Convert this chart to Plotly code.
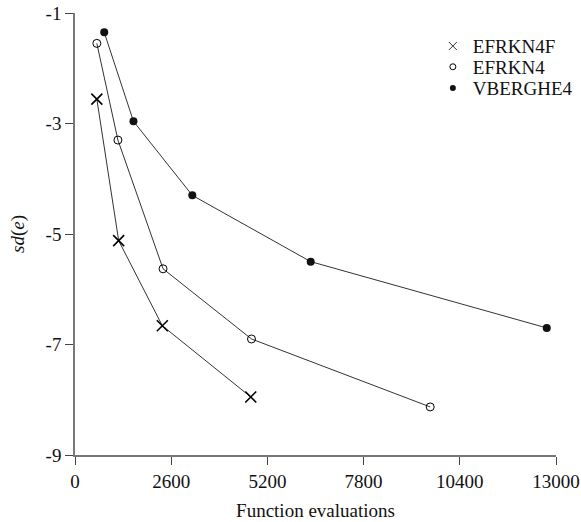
import plotly.graph_objects as go

# Data
efrkn4f_x = [590, 1180, 2360, 4750]
efrkn4f_y = [-2.56, -5.12, -6.66, -7.95]

efrkn4_x = [590, 1160, 2380, 4770, 9600]
efrkn4_y = [-1.55, -3.30, -5.63, -6.90, -8.13]

vberghe4_x = [790, 1580, 3170, 6370, 12750]
vberghe4_y = [-1.35, -2.96, -4.30, -5.50, -6.70]

series_names = ["EFRKN4F", "EFRKN4", "VBERGHE4"]

x_ticks = [0, 2600, 5200, 7800, 10400, 13000]
y_ticks = [-1, -3, -5, -7, -9]

FONT = "Liberation Serif"
LINE = "#333333"
FS = 19

markers = [
    dict(symbol="x-thin", size=11, color="black", line=dict(width=1.6, color="black")),
    dict(symbol="circle-open", size=8, color="black", line=dict(width=1, color="black")),
    dict(symbol="circle", size=8, color="#111111"),
]
legend_markers = [
    dict(symbol="x-thin", size=8, color="#333333", line=dict(width=1, color="#333333")),
    dict(symbol="circle-open", size=6, color="black", line=dict(width=1, color="black")),
    dict(symbol="circle", size=6, color="#111111"),
]
legend_ids = ["legend", "legend2", "legend3"]
legend_rows_y = [0.925, 0.878, 0.830]

fig = go.Figure()
for name, xs, ys, mk, lmk, lid in zip(series_names,
                                      [efrkn4f_x, efrkn4_x, vberghe4_x],
                                      [efrkn4f_y, efrkn4_y, vberghe4_y],
                                      markers, legend_markers, legend_ids):
    fig.add_trace(go.Scatter(
        x=xs, y=ys, name=name, mode="lines+markers", showlegend=False,
        line=dict(color=LINE, width=1), marker=mk, legendgroup=name,
    ))
    # legend entry: marker only
    fig.add_trace(go.Scatter(
        x=[None], y=[None], name=name, mode="markers", showlegend=True,
        marker=lmk, legendgroup=name, legend=lid,
    ))

legend_style = dict(x=0.744, xanchor="left", yanchor="middle",
                    bgcolor="rgba(0,0,0,0)", borderwidth=0,
                    font=dict(family=FONT, size=FS))

fig.update_layout(
    width=581, height=522,
    margin=dict(l=75, r=25, t=13, b=67, autoexpand=False),
    paper_bgcolor="white", plot_bgcolor="white",
    font=dict(family=FONT, size=FS, color="#111111"),
    showlegend=True,
    legend=dict(y=legend_rows_y[0], **legend_style),
    legend2=dict(y=legend_rows_y[1], **legend_style),
    legend3=dict(y=legend_rows_y[2], **legend_style),
    xaxis=dict(
        range=[0, 13000], tickvals=x_ticks, ticktext=[str(v) for v in x_ticks],
        showgrid=False, zeroline=False, showline=True, linecolor="#777777",
        linewidth=1.5, ticks="outside", ticklen=8, tickwidth=1,
        tickcolor="#444444", automargin=False,
        title=dict(text="Function evaluations", font=dict(family=FONT, size=FS), standoff=13),
    ),
    yaxis=dict(
        range=[-9, -1], tickvals=y_ticks, ticktext=[str(v) for v in y_ticks],
        showgrid=False, zeroline=False, showline=True, linecolor="#777777",
        linewidth=1.5, ticks="outside", ticklen=8, tickwidth=1,
        tickcolor="#444444", automargin=False,
        title=dict(text="<i>sd</i>(<i>e</i>)", font=dict(family=FONT, size=FS), standoff=16),
    ),
)

fig.write_html("out.html")
